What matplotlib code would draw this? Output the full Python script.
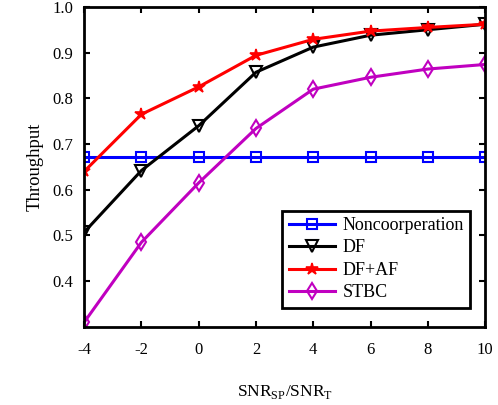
import matplotlib.pyplot as plt
import numpy as np

snr = [-4, -2, 0, 2, 4, 6, 8, 10]
noncoop = [0.672, 0.672, 0.672, 0.672, 0.672, 0.672, 0.672, 0.672]
df = [0.507, 0.642, 0.740, 0.857, 0.912, 0.938, 0.950, 0.962]
df_af = [0.640, 0.765, 0.825, 0.894, 0.929, 0.947, 0.955, 0.962]
stbc = [0.310, 0.485, 0.615, 0.734, 0.820, 0.846, 0.864, 0.874]


def plot_throughput():
    plt.rcParams['font.family'] = 'Liberation Serif'
    plt.rcParams['axes.unicode_minus'] = False
    plt.rcParams['mathtext.fontset'] = 'custom'
    plt.rcParams['mathtext.rm'] = 'Liberation Serif'
    fig = plt.figure(figsize=(4.98, 4.05), dpi=100)
    ax = fig.add_axes([0.169, 0.193, 0.805, 0.790])

    ax.plot(snr, noncoop, color='#0000ff', lw=2.2, marker='s', ms=7,
            mfc='none', mew=1.5, label='Noncoorperation')
    ax.plot(snr, df, color='black', lw=2.2, marker='v', ms=8,
            mfc='none', mew=1.5, label='DF')
    ax.plot(snr, df_af, color='#ff0000', lw=2.2, marker='*', ms=9,
            mew=1.2, label='DF+AF')
    ax.plot(snr, stbc, color='#c000c0', lw=2.2, marker='d', ms=8,
            mfc='none', mew=1.5, label='STBC')

    ax.set_xlim(-4, 10)
    ax.set_ylim(0.3, 1.0)
    ax.set_xticks(snr)
    ax.set_yticks([0.4, 0.5, 0.6, 0.7, 0.8, 0.9, 1.0])
    ax.set_yticklabels(['0.4', '0.5', '0.6', '0.7', '0.8', '0.9', '1.0'])
    ax.tick_params(direction='in', top=True, right=True, width=1.5,
                   length=4, labelsize=12)
    ax.tick_params(axis='x', pad=11)
    ax.tick_params(axis='y', pad=8)
    for s in ax.spines.values():
        s.set_linewidth(2)

    ax.set_ylabel('Throughput', fontsize=13.5, labelpad=6)
    ax.set_xlabel(r'SNR$_{\mathrm{SP}}$/SNR$_{\mathrm{T}}$', fontsize=12.5,
                  labelpad=18)

    leg = ax.legend(loc='lower left', bbox_to_anchor=(0.494, 0.06),
                    borderaxespad=0, fontsize=13, fancybox=False,
                    edgecolor='black', framealpha=1, handlelength=2.6,
                    borderpad=0.35, labelspacing=0.3, handletextpad=0.4)
    leg.get_frame().set_linewidth(2)

    plt.savefig('out.png', dpi=100)


if __name__ == "__main__":
    plot_throughput()
